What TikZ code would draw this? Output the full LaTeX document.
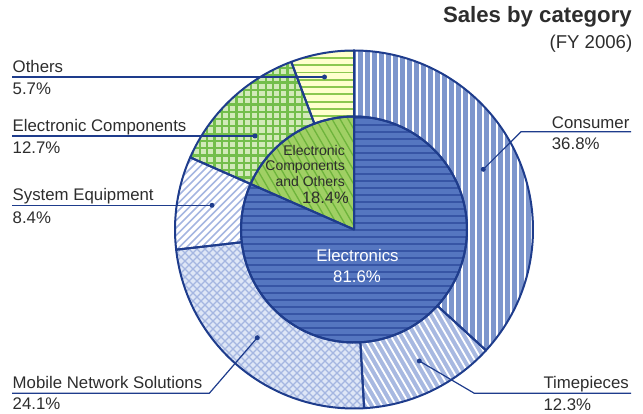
\documentclass[tikz,border=0pt]{standalone}
\usepackage{fontspec}
\setmainfont{Liberation Sans}
\usepackage{tikz}

\definecolor{navy}{RGB}{30,60,140}
\definecolor{txtgray}{RGB}{45,45,45}
\definecolor{consBg}{RGB}{125,150,205}
\definecolor{timeBg}{RGB}{168,185,225}
\definecolor{mobBg}{RGB}{222,230,246}
\definecolor{hatchBlue}{RGB}{165,182,225}
\definecolor{compBg}{RGB}{210,234,185}
\definecolor{compLine}{RGB}{115,190,75}
\definecolor{othBg}{RGB}{255,255,205}
\definecolor{othLine}{RGB}{140,200,80}
\definecolor{elecBg}{RGB}{85,118,192}
\definecolor{elecLine}{RGB}{55,85,165}
\definecolor{grnBg}{RGB}{160,208,100}
\definecolor{grnLine}{RGB}{110,180,60}

\def\Rout{179}
\def\Rin{113}
\newcommand\ringsector[2]{([shift={(c)}]#1:\Rout) arc[start angle=#1,end angle=#2,radius=\Rout] -- ([shift={(c)}]#2:\Rin) arc[start angle=#2,end angle=#1,radius=\Rin] -- cycle}
\newcommand\piesector[2]{(c) -- ([shift={(c)}]#1:\Rin) arc[start angle=#1,end angle=#2,radius=\Rin] -- cycle}

\tikzset{
	lbl/.style={anchor=base west,inner sep=0pt,text=txtgray,font=\fontsize{16.8}{18}\selectfont},
	leader/.style={navy,line width=1.2pt},
	dot/.style={circle,fill=navy,inner sep=0pt,minimum size=5pt},
	border/.style={navy,line width=2pt,line join=round},
}

\begin{document}
\begin{tikzpicture}[x=1pt,y=1pt]
	\useasboundingbox (0,0) rectangle (643,414);
	\coordinate (c) at (354,184.5);
	
	% Draw outer ring
	\begin{scope}
		\clip \ringsector{-42.48}{90};
		\fill[consBg] (c) circle[radius=\Rout];
		\foreach \x in {357,364,...,540} \draw[white,line width=2pt] (\x,0) -- (\x,414);
	\end{scope}
	\begin{scope}
		\clip \ringsector{-86.76}{-42.48};
		\fill[timeBg] (c) circle[radius=\Rout];
		\foreach \x in {345,352,...,575} \draw[white,line width=1.8pt] (\x,0) -- ++(-240,414);
	\end{scope}
	\begin{scope}
		\clip \ringsector{186.48}{273.24};
		\fill[mobBg] (c) circle[radius=\Rout];
		\foreach \x in {-40,-32,...,370} \draw[hatchBlue,line width=1.3pt] (\x,0) -- ++(414,414);
		\foreach \x in {170,178,...,580} \draw[hatchBlue,line width=1.3pt] (\x,0) -- ++(-414,414);
	\end{scope}
	\begin{scope}
		\clip \ringsector{156.24}{186.48};
		\foreach \x in {-100,-92.5,...,260} \draw[hatchBlue,line width=1.6pt] (\x,0) -- ++(414,414);
	\end{scope}
	\begin{scope}
		\clip \ringsector{110.52}{156.24};
		\fill[compBg] (c) circle[radius=\Rout];
		\foreach \x in {178,185.3,...,305} \draw[compLine,line width=2.2pt] (\x,0) -- (\x,414);
		\foreach \y in {200,207.3,...,370} \draw[compLine,line width=2.2pt] (150,\y) -- (360,\y);
	\end{scope}
	\begin{scope}
		\clip \ringsector{90}{110.52};
		\fill[othBg] (c) circle[radius=\Rout];
		\foreach \y in {232,239.3,...,370} \draw[othLine,line width=1.9pt] (280,\y) -- (360,\y);
	\end{scope}
	
	% Draw inner pie
	\begin{scope}
		\clip \piesector{-203.76}{90};
		\fill[elecBg] (c) circle[radius=\Rin];
		\foreach \y in {72,79,...,300} \draw[elecLine,line width=1.8pt] (230,\y) -- (480,\y);
	\end{scope}
	\begin{scope}
		\clip \piesector{90}{156.24};
		\fill[grnBg] (c) circle[radius=\Rin];
		\foreach \x in {335,343,...,545} \draw[grnLine,line width=1.3pt] (\x,0) -- ++(-240,414);
	\end{scope}
	
	% Draw borders
	\foreach \a/\b in {-42.48/90,-86.76/-42.48,186.48/273.24,156.24/186.48,110.52/156.24,90/110.52}
		\draw[border] \ringsector{\a}{\b};
	\draw[border] \piesector{-203.76}{90};
	\draw[border] \piesector{90}{156.24};
	
	% Draw title
	\node[anchor=base east,inner sep=0pt,text=txtgray,font=\bfseries\fontsize{22.2}{24}\selectfont] (title) at (632,391.3) {Sales by category};
	\node[anchor=base east,inner sep=0pt,text=txtgray,font=\fontsize{18.6}{20}\selectfont] (fy) at (632.5,365.3) {(FY 2006)};
	
	% Draw inner labels
	\node[anchor=base,inner sep=0pt,text=white,font=\fontsize{16.8}{18}\selectfont] (elec) at (357.5,152.3) {Electronics};
	\node[anchor=base,inner sep=0pt,text=white,font=\fontsize{16.8}{18}\selectfont] (elecPct) at (357,131.3) {81.6\%};
	\node[anchor=base east,inner sep=0pt,text=txtgray,font=\fontsize{14}{15}\selectfont] (grnA) at (345,258.3) {Electronic};
	\node[anchor=base east,inner sep=0pt,text=txtgray,font=\fontsize{14}{15}\selectfont] (grnB) at (345,243) {Components};
	\node[anchor=base east,inner sep=0pt,text=txtgray,font=\fontsize{14}{15}\selectfont] (grnC) at (345,227.3) {and Others};
	\node[anchor=base east,inner sep=0pt,text=txtgray,font=\fontsize{16.5}{18}\selectfont] (grnPct) at (349,210.7) {18.4\%};
	
	% Draw outer labels
	\node[lbl] (oth) at (12.5,341.3) {Others};
	\node[lbl] (othPct) at (12.5,319.7) {5.7\%};
	\node[lbl] (comp) at (12.5,282.3) {Electronic Components};
	\node[lbl] (compPct) at (12.5,260.7) {12.7\%};
	\node[lbl] (sys) at (12.5,213.3) {System Equipment};
	\node[lbl] (sysPct) at (12.5,190.7) {8.4\%};
	\node[lbl] (mob) at (12.5,25) {Mobile Network Solutions};
	\node[lbl] (mobPct) at (12.5,4) {24.1\%};
	\node[lbl] (cons) at (551.7,285.7) {Consumer};
	\node[lbl] (consPct) at (551.7,264) {36.8\%};
	\node[lbl] (time) at (543.3,25.7) {Timepieces};
	\node[lbl] (timePct) at (543.3,3) {12.3\%};
	
	% Draw leaders
	\node[dot] (othDot) at (324.5,337) {};
	\node[dot] (compDot) at (255,278) {};
	\node[dot] (sysDot) at (212,208.7) {};
	\node[dot] (mobDot) at (257.3,76.3) {};
	\node[dot] (consDot) at (483.3,244.7) {};
	\node[dot] (timeDot) at (419.3,53) {};
	\coordinate (othEnd) at (12,337);
	\coordinate (compEnd) at (12,278);
	\coordinate (sysEnd) at (12,208.7);
	\coordinate (mobEnd) at (12,20.7);
	\coordinate (mobBend) at (209.3,20.7);
	\coordinate (consEnd) at (631,282.3);
	\coordinate (consBend) at (521,282.3);
	\coordinate (timeEnd) at (631,20.7);
	\coordinate (timeBend) at (474.3,20.7);
	\draw[leader] (othEnd) -- (othDot.center);
	\draw[leader] (compEnd) -- (compDot.center);
	\draw[leader] (sysEnd) -- (sysDot.center);
	\draw[leader] (mobEnd) -- (mobBend) -- (mobDot.center);
	\draw[leader] (consEnd) -- (consBend) -- (consDot.center);
	\draw[leader] (timeEnd) -- (timeBend) -- (timeDot.center);
	
\end{tikzpicture}
\end{document}
